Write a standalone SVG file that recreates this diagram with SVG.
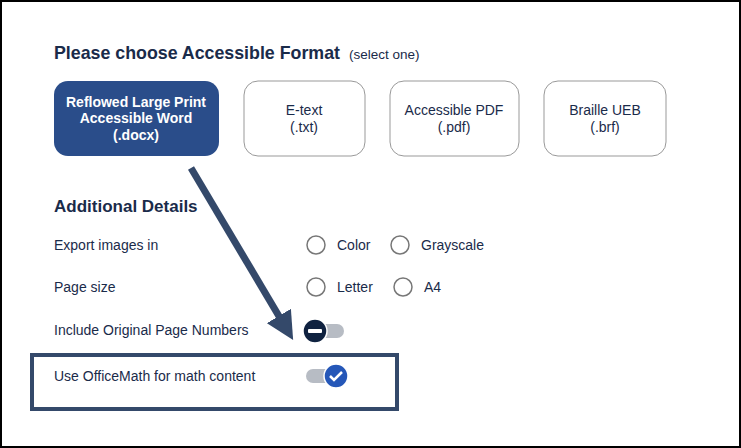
<svg xmlns="http://www.w3.org/2000/svg" width="741" height="448" viewBox="0 0 741 448">
<style>
text{font-family:"Liberation Sans",Arial,sans-serif;fill:#1a2b4a}
.opt{fill:#fff;stroke:#999;stroke-width:1}
.bt{font-size:14px;text-anchor:middle}
.lbl{font-size:14px}
.radio{fill:#fff;stroke:#777;stroke-width:1.5}
</style>
<defs>
<marker id="ah" markerWidth="4" markerHeight="4" refX="2" refY="2" orient="auto" markerUnits="strokeWidth"><path d="M0,0 L4,2 L0,4 Z" fill="#34496a"/></marker>
</defs>
<rect x="1" y="1" width="739" height="446" fill="#fff" stroke="#000" stroke-width="2"/>
<text x="54" y="59" font-size="17.8" font-weight="bold">Please choose Accessible Format</text>
<text x="349" y="59" font-size="13.5">(select one)</text>
<g id="docx"><rect x="54" y="81" width="165" height="75" rx="14" fill="#2a4d8a"/>
<text class="bt" x="136" y="107" style="fill:#fff;font-weight:bold">Reflowed Large Print</text>
<text class="bt" x="136" y="123" style="fill:#fff;font-weight:bold">Accessible Word</text>
<text class="bt" x="136" y="140" style="fill:#fff;font-weight:bold">(.docx)</text></g>
<g id="etext"><rect class="opt" x="244" y="81" width="121" height="75" rx="14"/>
<text class="bt" x="304" y="115">E-text</text><text class="bt" x="304" y="132">(.txt)</text></g>
<g id="pdf"><rect class="opt" x="390" y="81" width="129" height="75" rx="14"/>
<text class="bt" x="454" y="115">Accessible PDF</text><text class="bt" x="454" y="132">(.pdf)</text></g>
<g id="brf"><rect class="opt" x="544" y="81" width="122" height="75" rx="14"/>
<text class="bt" x="605" y="115">Braille UEB</text><text class="bt" x="605" y="132">(.brf)</text></g>
<text x="54" y="212" font-size="17" font-weight="bold">Additional Details</text>
<g id="export"><text class="lbl" x="54" y="250">Export images in</text>
<circle class="radio" cx="316" cy="245" r="9"/><text class="lbl" x="337" y="250">Color</text>
<circle class="radio" cx="400" cy="245" r="9"/><text class="lbl" x="421" y="250">Grayscale</text></g>
<g id="pagesize"><text class="lbl" x="54" y="292">Page size</text>
<circle class="radio" cx="316" cy="287" r="9"/><text class="lbl" x="337" y="292">Letter</text>
<circle class="radio" cx="403" cy="287" r="9"/><text class="lbl" x="424" y="292">A4</text></g>
<g id="pagenums"><text class="lbl" x="54" y="335">Include Original Page Numbers</text>
<rect x="310" y="324" width="34" height="14" rx="7" fill="#b7bcc4"/>
<circle cx="315" cy="331" r="12" fill="#0f2240" stroke="#fff" stroke-width="1.5"/>
<rect x="308" y="329" width="14" height="4" rx="1" fill="#fff"/></g>
<g id="officemath"><rect x="32" y="355" width="365" height="54" fill="none" stroke="#34496a" stroke-width="4"/>
<text class="lbl" x="54" y="381">Use OfficeMath for math content</text>
<rect x="306" y="369" width="36" height="14" rx="7" fill="#b7bcc4"/>
<circle cx="336" cy="376" r="12" fill="#2557b8" stroke="#fff" stroke-width="1.5"/>
<path d="M330,376 L334,380 L342,372" fill="none" stroke="#fff" stroke-width="2.5"/></g>
<g id="connectors"><line x1="191" y1="168" x2="286" y2="328" stroke="#34496a" stroke-width="7" marker-end="url(#ah)"/></g>
</svg>
